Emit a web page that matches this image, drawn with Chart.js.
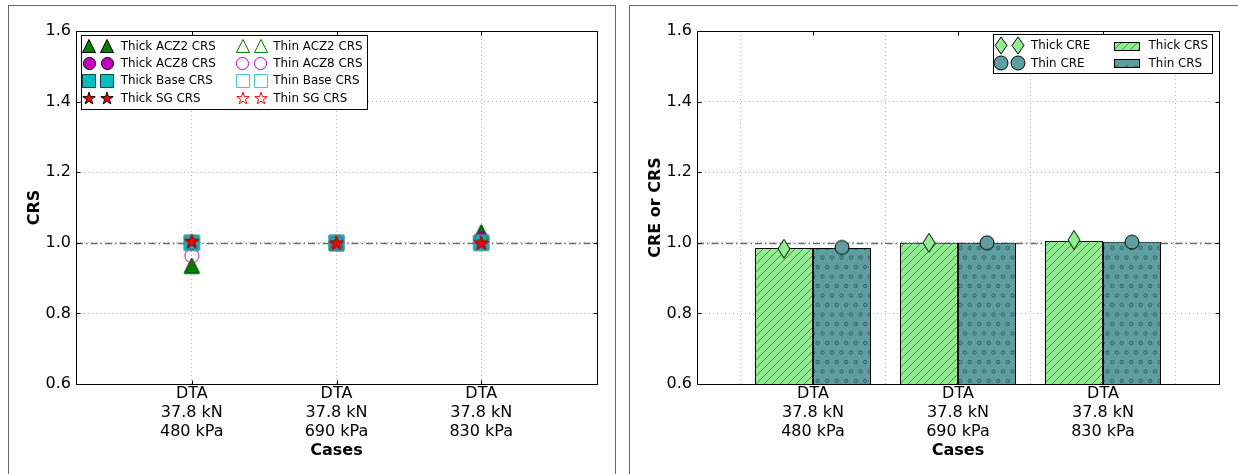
<!DOCTYPE html>
<html><head><meta charset="utf-8">
<script src="https://cdn.jsdelivr.net/npm/chart.js@4.4.1/dist/chart.umd.min.js"></script>
<style>
html,body{margin:0;padding:0;background:#fff;overflow:hidden;width:1238px;height:474px;}
.panel{position:absolute;border:1px solid #666;background:#fff;}
#p1{left:8px;top:5px;width:606px;height:480px;}
#p2{left:629px;top:5px;width:608px;height:480px;}
canvas{display:block;}
</style></head><body>
<div class="panel" id="p1"><canvas id="c1" width="606" height="468"></canvas></div>
<div class="panel" id="p2"><canvas id="c2" width="608" height="468"></canvas></div>
<script>
// ---------------- DATA ----------------
const categories = ['DTA\n37.8 kN\n480 kPa', 'DTA\n37.8 kN\n690 kPa', 'DTA\n37.8 kN\n830 kPa'];
const caseX = [0, 1, 2];
const yTicks = [0.6, 0.8, 1.0, 1.2, 1.4, 1.6];
const refValue = 1.0;

// left panel (CRS)
const thickACZ2 = [0.935, 1.000, 1.030];
const thickACZ8 = [1.000, 1.000, 1.010];
const thickBase = [1.000, 1.000, 1.000];
const thickSG   = [1.005, 1.000, 1.000];
const thinACZ2  = [0.935, 1.000, 1.030];
const thinACZ8  = [0.963, 1.000, 1.010];
const thinBase  = [1.000, 1.000, 1.000];
const thinSG    = [1.005, 1.000, 1.000];

// right panel (CRE / CRS)
const thickCRS = [0.985, 1.000, 1.005];
const thinCRS  = [0.985, 1.000, 1.003];
const thickCRE = [0.983, 1.000, 1.008];
const thinCRE  = [0.987, 1.000, 1.002];

// ---------------- STYLE HELPERS ----------------
const FONT = 'DejaVu Sans';
Chart.defaults.font.family = FONT;
Chart.defaults.color = '#000';

function marker(shape, w, h, fill, stroke, lw) {
  lw = lw || 1;
  const pad = 2;
  const c = document.createElement('canvas');
  c.width = Math.ceil(w + pad * 2); c.height = Math.ceil(h + pad * 2);
  const g = c.getContext('2d');
  const cx = c.width / 2, cy = c.height / 2;
  g.beginPath();
  if (shape === 'triangle') {
    g.moveTo(cx, cy - h / 2); g.lineTo(cx + w / 2, cy + h / 2); g.lineTo(cx - w / 2, cy + h / 2); g.closePath();
  } else if (shape === 'circle') {
    g.arc(cx, cy, w / 2, 0, Math.PI * 2);
  } else if (shape === 'square') {
    g.rect(cx - w / 2, cy - h / 2, w, h);
  } else if (shape === 'diamond') {
    g.moveTo(cx, cy - h / 2); g.lineTo(cx + w / 2, cy); g.lineTo(cx, cy + h / 2); g.lineTo(cx - w / 2, cy); g.closePath();
  } else if (shape === 'star') {
    const R = w / 2, r = R * 0.382;
    const oy = cy + R * 0.1;
    for (let i = 0; i < 10; i++) {
      const rad = i % 2 ? r : R;
      const ang = -Math.PI / 2 + i * Math.PI / 5;
      const px = cx + rad * Math.cos(ang), py = oy + rad * Math.sin(ang);
      if (i === 0) g.moveTo(px, py); else g.lineTo(px, py);
    }
    g.closePath();
  }
  if (fill) { g.fillStyle = fill; g.fill(); }
  g.lineWidth = lw; g.strokeStyle = stroke; g.stroke();
  return c;
}

function makeMarkers(shape, w, h, fill, stroke) {
  const s = 0.87;
  return { plot: marker(shape, w, h, fill, stroke), legend: marker(shape, w * s, h * s, fill, stroke) };
}

function xy(vals, dx) { return vals.map((v, i) => ({ x: caseX[i] + (dx || 0), y: v })); }

function yAxis(title) {
  return {
    type: 'linear', min: 0.6, max: 1.6,
    afterBuildTicks: s => { s.ticks = yTicks.map(v => ({ value: v })); },
    ticks: { callback: v => Number(v).toFixed(1), font: { family: FONT, size: 16 }, color: '#000', padding: 5 },
    grid: { color: '#b8b8b8', lineWidth: 1, drawTicks: false },
    border: { display: false, dash: [1, 3] },
    title: { display: true, text: title, color: '#000', font: { family: FONT, size: 16, weight: 'bold' }, padding: { top: 16, bottom: 0 } },
    afterFit: s => { s.width = 67; }
  };
}
function xAxis() {
  return {
    type: 'linear', min: -0.8, max: 2.8, offset: false,
    afterBuildTicks: s => { s.ticks = caseX.map(v => ({ value: v })); },
    ticks: { callback: v => categories[caseX.indexOf(v)].split('\n'), font: { family: FONT, size: 16, lineHeight: 1.19 },
             color: '#000', padding: 0, maxRotation: 0, autoSkip: false },
    grid: { color: '#b8b8b8', lineWidth: 1, drawTicks: false },
    border: { display: false, dash: [1, 3] },
    title: { display: true, text: 'Cases', color: '#000', font: { family: FONT, size: 16, weight: 'bold' }, padding: { top: 0, bottom: 14 } },
    afterFit: s => { s.height = 90; }
  };
}

const decor = {
  id: 'decor',
  beforeDatasetsDraw(chart) {
    const { ctx, chartArea: a } = chart;
    const py = Math.round(chart.scales.y.getPixelForValue(refValue)) + 0.5;
    ctx.save();
    ctx.strokeStyle = '#6e6e6e'; ctx.lineWidth = 1.3; ctx.setLineDash([7, 3, 1.5, 3]);
    ctx.beginPath(); ctx.moveTo(a.left, py); ctx.lineTo(a.right, py); ctx.stroke();
    ctx.restore();
  },
  afterDatasetsDraw(chart) {
    const { ctx, chartArea: a } = chart;
    const L = Math.round(a.left) + 0.5, R = Math.round(a.right) + 0.5, T = Math.round(a.top) + 0.5, B = Math.round(a.bottom) + 0.5;
    ctx.save();
    ctx.strokeStyle = '#000'; ctx.lineWidth = 1; ctx.setLineDash([]);
    ctx.beginPath();
    chart.scales.y.ticks.forEach(t => {
      const py = Math.round(chart.scales.y.getPixelForValue(t.value)) + 0.5;
      ctx.moveTo(L, py); ctx.lineTo(L + 4, py);
      ctx.moveTo(R, py); ctx.lineTo(R - 4, py);
    });
    chart.scales.x.ticks.forEach(t => {
      const px = Math.round(chart.scales.x.getPixelForValue(t.value)) + 0.5;
      ctx.moveTo(px, B); ctx.lineTo(px, B - 4);
      ctx.moveTo(px, T); ctx.lineTo(px, T + 4);
    });
    ctx.stroke();
    ctx.strokeRect(L, T, R - L, B - T);
    ctx.restore();
  }
};

function legendPlugin(cfg) {
  return {
    id: 'mplLegend',
    afterDraw(chart) {
      const { ctx, chartArea: a } = chart;
      const bx = Math.round(cfg.anchor === 'right' ? a.right - cfg.fromRight : a.left + cfg.dx);
      const by = Math.round(a.top + cfg.dy);
      ctx.save();
      ctx.fillStyle = '#fff'; ctx.fillRect(bx, by, cfg.w, cfg.h);
      ctx.strokeStyle = '#000'; ctx.lineWidth = 1; ctx.strokeRect(bx + 0.5, by + 0.5, cfg.w, cfg.h);
      ctx.font = '11.9px "' + FONT + '"'; ctx.textBaseline = 'middle'; ctx.textAlign = 'left';
      cfg.items.forEach((idx, k) => {
        const col = Math.floor(k / cfg.rows), row = k % cfg.rows;
        const c = cfg.cols[col];
        const ds = chart.data.datasets[idx];
        const y = by + cfg.rowY0 + row * cfg.rowDy;
        if (ds.legendMarker) {
          const img = ds.legendMarker;
          [c.m1, c.m2].forEach(mx => ctx.drawImage(img, Math.round(bx + mx - img.width / 2), Math.round(y - img.height / 2)));
        } else {
          const px = Math.round(bx + c.px), py = Math.round(y - cfg.patchH / 2);
          ctx.fillStyle = ds.backgroundColor; ctx.fillRect(px, py, c.pw, cfg.patchH);
          ctx.strokeStyle = '#000'; ctx.strokeRect(px + 0.5, py + 0.5, c.pw, cfg.patchH);
        }
        ctx.fillStyle = '#000';
        ctx.fillText(ds.label, bx + c.tx, y + 0.5);
      });
      ctx.restore();
    }
  };
}

// ---------------- LEFT CHART ----------------
const mk = {
  thickACZ2: makeMarkers('triangle', 15, 15, '#008000', '#000'),
  thickACZ8: makeMarkers('circle', 14, 14, '#BF00BF', '#000'),
  thickBase: makeMarkers('square', 15, 15, '#00BFBF', '#0b3f3f'),
  thickSG:   makeMarkers('star', 15, 15, '#FF0000', '#000'),
  thinACZ2:  makeMarkers('triangle', 15, 15, null, '#008000'),
  thinACZ8:  makeMarkers('circle', 14, 14, null, '#BF00BF'),
  thinBase:  makeMarkers('square', 15, 15, null, '#40C8C8'),
  thinSG:    makeMarkers('star', 15, 15, null, '#FF0000')
};
const leftSeries = [
  ['Thick ACZ2 CRS', thickACZ2, mk.thickACZ2],
  ['Thick ACZ8 CRS', thickACZ8, mk.thickACZ8],
  ['Thick Base CRS', thickBase, mk.thickBase],
  ['Thick SG CRS', thickSG, mk.thickSG],
  ['Thin ACZ2 CRS', thinACZ2, mk.thinACZ2],
  ['Thin ACZ8 CRS', thinACZ8, mk.thinACZ8],
  ['Thin Base CRS', thinBase, mk.thinBase],
  ['Thin SG CRS', thinSG, mk.thinSG]
];
new Chart(document.getElementById('c1'), {
  type: 'scatter',
  data: {
    datasets: leftSeries.map((s, i) => ({
      label: s[0], data: xy(s[1]), pointStyle: s[2].plot, legendMarker: s[2].legend,
      pointRadius: 7, order: 20 - i
    }))
  },
  options: {
    responsive: false, animation: false, events: [], devicePixelRatio: 1,
    layout: { padding: { top: 25, right: 18, bottom: 0, left: 0 } },
    plugins: { legend: { display: false }, tooltip: { enabled: false } },
    scales: { x: xAxis(), y: yAxis('CRS') }
  },
  plugins: [decor, legendPlugin({
    anchor: 'left', dx: 5, dy: 4, w: 286, h: 74, rows: 4, rowY0: 11, rowDy: 17.33,
    cols: [{ m1: 8, m2: 26.3, tx: 39.7 }, { m1: 161.7, m2: 179.7, tx: 192.3 }],
    items: [0, 1, 2, 3, 4, 5, 6, 7]
  })]
});

// ---------------- RIGHT CHART ----------------
const ctx2 = document.getElementById('c2').getContext('2d');
function hatchDiag(bg) {
  const s = 8, c = document.createElement('canvas'); c.width = s; c.height = s;
  const g = c.getContext('2d');
  g.fillStyle = bg; g.fillRect(0, 0, s, s);
  g.strokeStyle = 'rgba(0,0,0,0.42)'; g.lineWidth = 1;
  g.beginPath();
  g.moveTo(0, s); g.lineTo(s, 0);
  g.moveTo(-1, 1); g.lineTo(1, -1);
  g.moveTo(s - 1, s + 1); g.lineTo(s + 1, s - 1);
  g.stroke();
  return ctx2.createPattern(c, 'repeat');
}
function hatchCircles(bg) {
  const c = document.createElement('canvas'); c.width = 19; c.height = 19;
  const g = c.getContext('2d');
  g.fillStyle = bg; g.fillRect(0, 0, 19, 19);
  g.strokeStyle = 'rgba(0,40,40,0.5)'; g.lineWidth = 1;
  [[2.5, 4.5], [12, 4.5], [7.2, 14], [16.7, 14]].forEach(p => { g.beginPath(); g.arc(p[0], p[1], 1.7, 0, Math.PI * 2); g.stroke(); });
  return ctx2.createPattern(c, 'repeat');
}
const barOffset = 0.2;
const diamondMk = marker('diamond', 12, 19, '#90EE90', '#000');
const diamondLg = marker('diamond', 12, 17, '#90EE90', '#000');
const circleMk = marker('circle', 14, 14, '#5F9EA0', '#000');
const circleLg = marker('circle', 14, 14, '#5F9EA0', '#000');

new Chart(ctx2, {
  type: 'bar',
  data: {
    datasets: [
      { type: 'bar', label: 'Thick CRS', data: xy(thickCRS), backgroundColor: hatchDiag('#90EE90'),
        borderColor: '#000', borderWidth: 1, borderSkipped: false, categoryPercentage: 0.8, barPercentage: 1.0, order: 10 },
      { type: 'bar', label: 'Thin CRS', data: xy(thinCRS), backgroundColor: hatchCircles('#5F9EA0'),
        borderColor: '#000', borderWidth: 1, borderSkipped: false, categoryPercentage: 0.8, barPercentage: 1.0, order: 10 },
      { type: 'scatter', label: 'Thick CRE', data: xy(thickCRE, -barOffset), pointStyle: diamondMk, legendMarker: diamondLg,
        pointRadius: 7, order: 1 },
      { type: 'scatter', label: 'Thin CRE', data: xy(thinCRE, barOffset), pointStyle: circleMk, legendMarker: circleLg,
        pointRadius: 7, order: 0 }
    ]
  },
  options: {
    responsive: false, animation: false, events: [], devicePixelRatio: 1,
    layout: { padding: { top: 25, right: 19, bottom: 0, left: 0 } },
    plugins: { legend: { display: false }, tooltip: { enabled: false } },
    scales: { x: xAxis(), y: yAxis('CRE or CRS') }
  },
  plugins: [decor, legendPlugin({
    anchor: 'right', fromRight: 226, dy: 3, w: 219, h: 39, rows: 2, rowY0: 11.7, rowDy: 17.6, patchH: 8,
    cols: [{ m1: 8.3, m2: 25.3, tx: 38 }, { px: 121.3, pw: 25, tx: 155.6 }],
    items: [2, 3, 0, 1]
  })]
});
</script>
</body></html>
